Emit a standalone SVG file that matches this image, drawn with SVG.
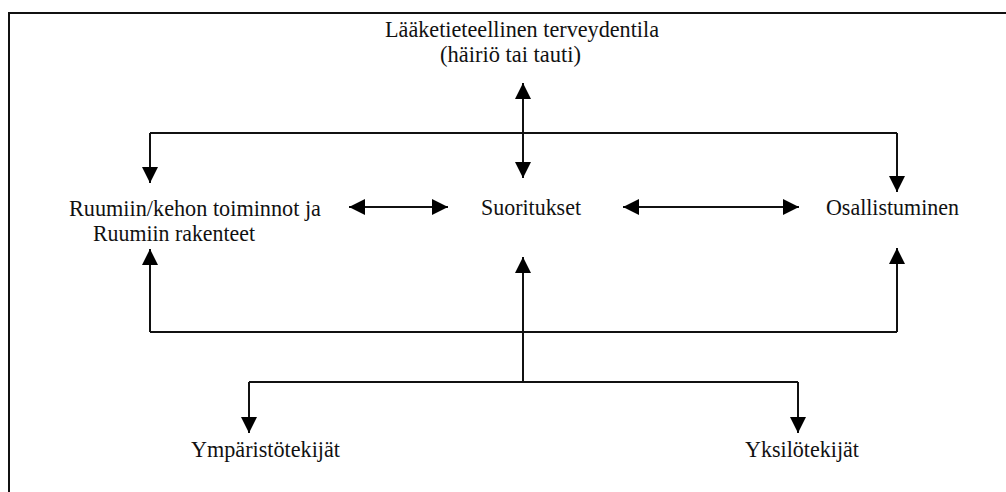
<svg xmlns="http://www.w3.org/2000/svg" width="1006" height="492" viewBox="0 0 1006 492">
<defs>
<marker id="ah" markerUnits="userSpaceOnUse" markerWidth="17" markerHeight="16" refX="16" refY="8" orient="auto-start-reverse" viewBox="0 0 17 16">
<path d="M0,0 L16,8 L0,16 z" fill="#000"/>
</marker>
<style>
text{font-family:'Liberation Serif','Times New Roman',Times,serif;font-size:23px;fill:#111;}
.c{fill:none;stroke:#111;stroke-width:2;}
.a{marker-end:url(#ah);}
.b{marker-start:url(#ah);marker-end:url(#ah);}
</style>
</defs>
<rect width="1006" height="492" fill="#fff"/>
<path class="c" d="M9,492 V13 H1006" stroke-width="2.5"/>
<g id="connectors">
<path class="c" d="M150,133 H897"/>
<path class="c a" d="M150,133 V183"/>
<path class="c a" d="M897,133 V192"/>
<path class="c b" d="M523,83 V178"/>
<path class="c b" d="M349,207 H448"/>
<path class="c b" d="M623,207 H799"/>
<path class="c" d="M150,332 H897"/>
<path class="c a" d="M150,332 V249"/>
<path class="c a" d="M897,332 V248"/>
<path class="c a" d="M523,382 V257"/>
<path class="c" d="M249,382 H798"/>
<path class="c a" d="M249,382 V433"/>
<path class="c a" d="M798,382 V433"/>
</g>
<g id="node-terveydentila" font-family="Liberation Serif, serif">
<text x="385" y="37" textLength="274" lengthAdjust="spacingAndGlyphs">Lääketieteellinen terveydentila</text>
<text x="440" y="62" textLength="141" lengthAdjust="spacingAndGlyphs">(häiriö tai tauti)</text>
</g>
<g id="node-ruumiin">
<text x="69" y="216" textLength="252" lengthAdjust="spacingAndGlyphs">Ruumiin/kehon toiminnot ja</text>
<text x="93" y="241" textLength="162" lengthAdjust="spacingAndGlyphs">Ruumiin rakenteet</text>
</g>
<g id="node-suoritukset">
<text x="481" y="215" textLength="100" lengthAdjust="spacingAndGlyphs">Suoritukset</text>
</g>
<g id="node-osallistuminen">
<text x="826" y="215" textLength="133" lengthAdjust="spacingAndGlyphs">Osallistuminen</text>
</g>
<g id="node-ymparisto">
<text x="191" y="457" textLength="149" lengthAdjust="spacingAndGlyphs">Ympäristötekijät</text>
</g>
<g id="node-yksilo">
<text x="745" y="457" textLength="114" lengthAdjust="spacingAndGlyphs">Yksilötekijät</text>
</g>
</svg>
